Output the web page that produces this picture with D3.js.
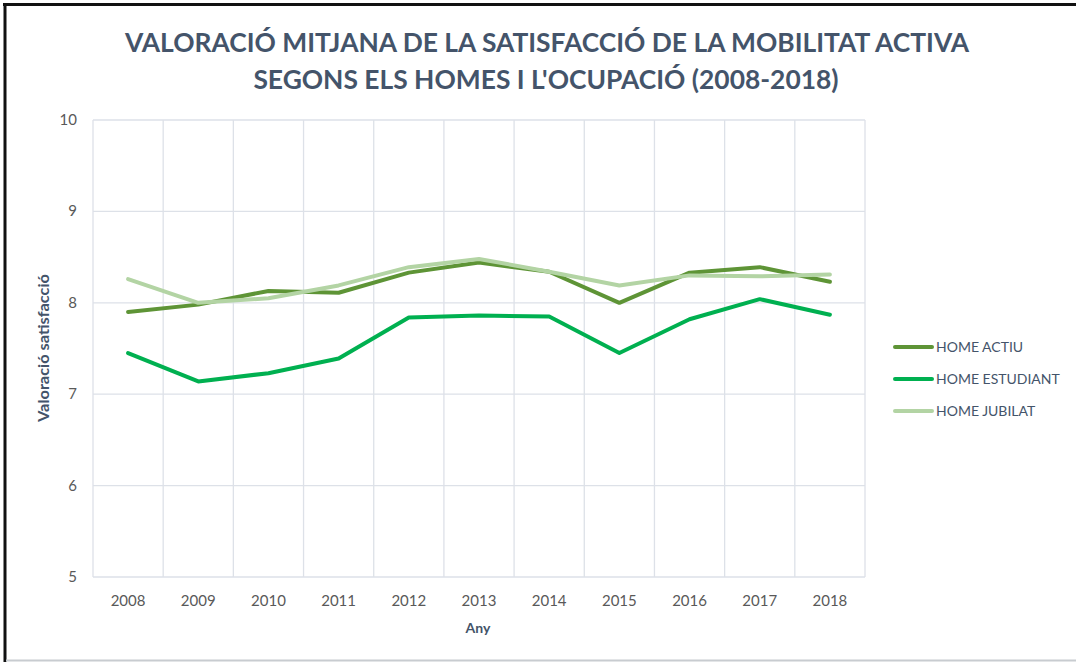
<!DOCTYPE html>
<html>
<head>
<meta charset="utf-8">
<script src="https://cdn.jsdelivr.net/npm/d3@7"></script>
<style>
  body { margin: 0; background: #fff; }
  svg { display: block; font-family: Lato, "Open Sans", sans-serif; }
</style>
</head>
<body>
<svg id="chart" width="1076" height="662"></svg>
<script>
// dades
const anys = ["2008","2009","2010","2011","2012","2013","2014","2015","2016","2017","2018"];
const homeActiu     = [7.90, 7.98, 8.13, 8.11, 8.33, 8.44, 8.34, 8.00, 8.33, 8.39, 8.23];
const homeEstudiant = [7.45, 7.14, 7.23, 7.39, 7.84, 7.86, 7.85, 7.45, 7.82, 8.04, 7.87];
const homeJubilat   = [8.26, 8.00, 8.05, 8.19, 8.39, 8.48, 8.34, 8.19, 8.30, 8.29, 8.31];
const yTicks = [5, 6, 7, 8, 9, 10];

const series = [
  { name: "HOME ACTIU", values: homeActiu, color: "#5e9436" },
  { name: "HOME ESTUDIANT", values: homeEstudiant, color: "#00b050" },
  { name: "HOME JUBILAT", values: homeJubilat, color: "#b3d4a4" }
];

const svg = d3.select("#chart");
const margin = { left: 93, right: 865, top: 120, bottom: 577 };

// marc exterior
svg.append("line").attr("x1", 5).attr("x2", 5).attr("y1", 3).attr("y2", 662)
  .attr("stroke", "#111").attr("stroke-width", 3);
svg.append("line").attr("x1", 3).attr("x2", 1076).attr("y1", 4.5).attr("y2", 4.5)
  .attr("stroke", "#111").attr("stroke-width", 3);
svg.append("line").attr("x1", 6).attr("x2", 1076).attr("y1", 660.5).attr("y2", 660.5)
  .attr("stroke", "#c8ccd0").attr("stroke-width", 2);

const x = d3.scaleBand().domain(anys).range([margin.left, margin.right]);
const y = d3.scaleLinear().domain([5, 10]).range([margin.bottom, margin.top]);

const grid = svg.append("g").attr("stroke", "#dde1e8").attr("stroke-width", 1.3);
// linies horitzontals
grid.selectAll(".h").data(yTicks).enter().append("line")
  .attr("x1", margin.left).attr("x2", margin.right)
  .attr("y1", d => y(d)).attr("y2", d => y(d));
// linies verticals (limits de categoria)
const bounds = anys.map(a => x(a)).concat([margin.right]);
grid.selectAll(".v").data(bounds).enter().append("line")
  .attr("x1", d => d).attr("x2", d => d)
  .attr("y1", margin.top).attr("y2", margin.bottom);

// eix Y
svg.append("g").selectAll("text").data(yTicks).enter().append("text")
  .attr("x", 77).attr("y", d => y(d) + 5)
  .attr("text-anchor", "end")
  .attr("font-size", 15).attr("fill", "#595959")
  .text(d => d);

// eix X
svg.append("g").selectAll("text").data(anys).enter().append("text")
  .attr("x", d => x(d) + x.bandwidth() / 2).attr("y", 606)
  .attr("text-anchor", "middle")
  .attr("font-size", 15).attr("fill", "#595959")
  .text(d => d);

// titols d'eixos
svg.append("text")
  .attr("x", 478).attr("y", 633)
  .attr("text-anchor", "middle")
  .attr("font-size", 14).attr("font-weight", "bold").attr("fill", "#44546a")
  .text("Any");
svg.append("text")
  .attr("transform", "translate(49,348) rotate(-90)")
  .attr("text-anchor", "middle")
  .attr("font-size", 14.5).attr("font-weight", "bold").attr("fill", "#44546a")
  .attr("textLength", 148).attr("lengthAdjust", "spacingAndGlyphs")
  .text("Valoració satisfacció");

// titol
const title = svg.append("text")
  .attr("text-anchor", "middle")
  .attr("font-size", 26.4).attr("font-weight", "bold").attr("fill", "#44546a");
title.append("tspan").attr("x", 547).attr("y", 52)
  .text("VALORACIÓ MITJANA DE LA SATISFACCIÓ DE LA MOBILITAT ACTIVA");
title.append("tspan").attr("x", 546).attr("y", 89)
  .text("SEGONS ELS HOMES I L'OCUPACIÓ (2008-2018)");

// linies
const line = d3.line()
  .x((d, i) => x(anys[i]) + x.bandwidth() / 2)
  .y(d => y(d));

svg.append("g").selectAll("path").data(series).enter().append("path")
  .attr("d", d => line(d.values))
  .attr("fill", "none")
  .attr("stroke", d => d.color)
  .attr("stroke-width", 4)
  .attr("stroke-linejoin", "round")
  .attr("stroke-linecap", "round");

// llegenda
const legend = svg.append("g").selectAll("g").data(series).enter().append("g")
  .attr("transform", (d, i) => `translate(895,${347 + i * 32})`);
legend.append("line")
  .attr("x1", 0).attr("x2", 37)
  .attr("stroke", d => d.color).attr("stroke-width", 4)
  .attr("stroke-linecap", "round");
legend.append("text")
  .attr("x", 41).attr("y", 5)
  .attr("font-size", 14).attr("fill", "#44546a")
  .text(d => d.name);
</script>
</body>
</html>
